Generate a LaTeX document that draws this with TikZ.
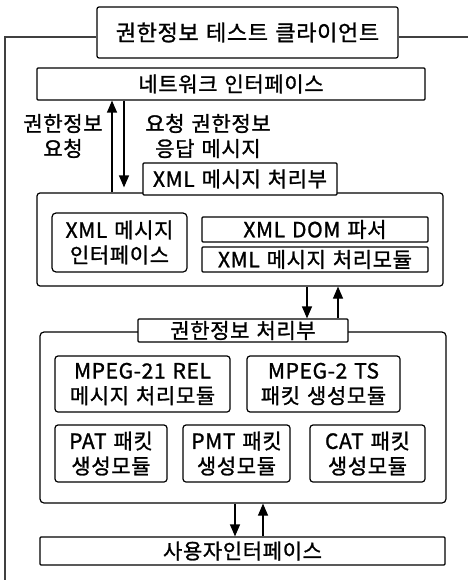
\documentclass[tikz,border=0pt]{standalone}
\usepackage{fontspec}
\newfontfamily\kr[WordSpace=1.3,LetterSpace=3,FakeBold=1.2]{Noto Sans CJK KR}
\usetikzlibrary{arrows.meta}
\tikzset{
  box/.style={draw, line width=1.2pt, inner sep=0pt, align=center, rounded corners=2pt,
    font=\fontsize{21}{25}\selectfont\kr},
  lbl/.style={inner sep=0pt, align=center, font=\fontsize{21}{25}\selectfont\kr},
  arr/.style={line width=1.2pt, -{Triangle[length=12pt,width=10pt]}},
  frame/.style={line width=1.6pt, draw=black!75}
}
\begin{document}
\begin{tikzpicture}[x=1pt,y=-1pt]
\useasboundingbox (0,0) rectangle (468,580);
% outer frame
\node[box, font=\fontsize{22}{25}\selectfont\kr, minimum width=301pt, minimum height=51pt] (title) at (247.5,32.5) {권한정보 테스트 클라이언트};
\coordinate (fb) at (5,580);
\coordinate (ft) at (5,37);
\coordinate (fr) at (468,37);
\draw[frame] (fb) -- (ft) -- (ft -| title.west);
\draw[frame] (title.east |- fr) -- (fr);
% network
\node[box, rounded corners=1pt, minimum width=388pt, minimum height=32pt] (net) at (231,84) {네트워크 인터페이스};
% xml block
\node[box, rounded corners=3pt, minimum width=406pt, minimum height=93pt] (xmlbig) at (240,239.5) {};
\node[box, fill=white, rounded corners=1pt, minimum width=194pt, minimum height=32pt] (xmlproc) at (240,179) {XML 메시지 처리부};
\node[box, rounded corners=4pt, minimum width=135pt, minimum height=59pt] (xmlif) at (119.5,242.5) {XML 메시지\\인터페이스};
\node[box, rounded corners=1pt, minimum width=226pt, minimum height=25pt] (dom) at (315,229.5) {XML DOM 파서};
\node[box, rounded corners=1pt, minimum width=226pt, minimum height=25pt] (xmlmod) at (315,259.5) {XML 메시지 처리모듈};
% labels and arrows to network
\node[lbl] (lq) at (63,136) {권한정보\\요청};
\node[lbl] (lr) at (208,136) {요청 권한정보\\응답 메시지};
\coordinate (a1) at (112,0);
\coordinate (a2) at (124,0);
\draw[arr] (xmlbig.north -| a1) -- (net.south -| a1);
\draw[arr, shorten >=5pt] (net.south -| a2) -- (xmlbig.north -| a2);
% rights block
\node[box, rounded corners=4pt, minimum width=406pt, minimum height=171pt] (rbig) at (243,417.5) {};
\node[box, fill=white, rounded corners=1pt, minimum width=210pt, minimum height=23pt] (rlabel) at (243,330.5) {권한정보 처리부};
\coordinate (b1) at (307,0);
\coordinate (b2) at (338,0);
\draw[arr] (xmlbig.south -| b1) -- (rlabel.north -| b1);
\draw[arr] (rlabel.north -| b2) -- (xmlbig.south -| b2);
\node[box, rounded corners=3pt, minimum width=175pt, minimum height=56pt] (mpeg21) at (142.5,384) {MPEG-21 REL\\메시지 처리모듈};
\node[box, rounded corners=3pt, minimum width=153pt, minimum height=56pt] (mpeg2) at (323.5,384) {MPEG-2 TS\\패킷 생성모듈};
\node[box, rounded corners=3pt, minimum width=112pt, minimum height=57pt] (pat) at (111,453.5) {PAT 패킷\\생성모듈};
\node[box, rounded corners=3pt, minimum width=107pt, minimum height=57pt] (pmt) at (236.5,453.5) {PMT 패킷\\생성모듈};
\node[box, rounded corners=3pt, minimum width=115pt, minimum height=57pt] (cat) at (367.5,453.5) {CAT 패킷\\생성모듈};
% user interface
\node[box, rounded corners=1pt, minimum width=405pt, minimum height=28pt] (user) at (242.5,551) {사용자인터페이스};
\coordinate (c1) at (235,0);
\coordinate (c2) at (263,0);
\draw[arr] (rbig.south -| c1) -- (user.north -| c1);
\draw[arr] (user.north -| c2) -- (rbig.south -| c2);
\end{tikzpicture}
\end{document}
